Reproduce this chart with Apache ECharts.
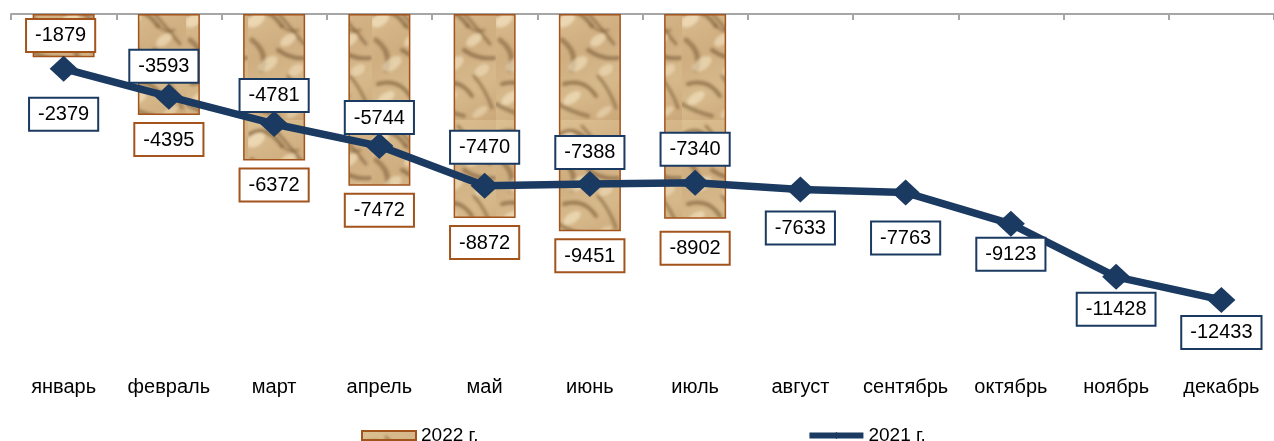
<!DOCTYPE html>
<html>
<head>
<meta charset="utf-8">
<script src="https://cdn.jsdelivr.net/npm/echarts@6/dist/echarts.min.js"></script>
<style>
html,body{margin:0;padding:0;background:#fff;}
#chart{width:1274px;height:441px;}
</style>
</head>
<body>
<div id="chart"></div>
<script>
// ---- data ----
var categories = ['январь','февраль','март','апрель','май','июнь','июль','август','сентябрь','октябрь','ноябрь','декабрь'];
var values2022 = [-1879,-4395,-6372,-7472,-8872,-9451,-8902];
var values2021 = [-2379,-3593,-4781,-5744,-7470,-7388,-7340,-7633,-7763,-9123,-11428,-12433];
var seriesNames = ['2022 г.','2021 г.'];

// ---- label styling (not data) ----
var linePos  = ['bottom','top','top','top','top','top','top','bottom','bottom','bottom','bottom','bottom'];
var lineDist = [17,2,0,0,10,3,5,10,17,2,4,4];
var barDist  = [0,9,9,9,9,9,14];

// sandy texture pattern
function makeTexture(){
  var c = document.createElement('canvas');
  c.width = 62; c.height = 120;
  var g = c.getContext('2d');
  var grd = g.createLinearGradient(0,0,62,120);
  grd.addColorStop(0,'#dcc092');
  grd.addColorStop(0.4,'#cfae80');
  grd.addColorStop(0.7,'#d6b98b');
  grd.addColorStop(1,'#cba879');
  g.fillStyle = grd; g.fillRect(0,0,62,120);
  g.filter = 'blur(1.5px)';
  g.lineCap = 'round';
  var dark = [
    [2,14,18,4,34,26,'rgba(110,78,42,0.55)',4],
    [24,6,38,22,56,44,'rgba(105,74,40,0.5)',3],
    [4,40,20,52,14,70,'rgba(115,82,45,0.5)',5],
    [30,50,44,60,60,58,'rgba(100,70,38,0.5)',4],
    [6,84,26,78,38,96,'rgba(110,78,42,0.55)',4],
    [40,76,52,90,58,108,'rgba(105,75,40,0.5)',3],
    [0,104,14,112,30,116,'rgba(100,72,38,0.45)',4],
    [34,26,44,34,50,30,'rgba(120,88,50,0.45)',3]
  ];
  dark.forEach(function(s){
    g.strokeStyle = s[6]; g.lineWidth = s[7];
    g.beginPath(); g.moveTo(s[0],s[1]); g.quadraticCurveTo(s[2],s[3],s[4],s[5]); g.stroke();
  });
  var light = [
    [8,20,10,6,'rgba(245,228,196,0.7)'],
    [40,40,9,5,'rgba(243,226,192,0.65)'],
    [20,64,11,6,'rgba(244,228,195,0.6)'],
    [48,70,8,5,'rgba(240,222,188,0.6)'],
    [14,98,10,5,'rgba(245,230,198,0.6)'],
    [46,112,9,4,'rgba(240,222,188,0.55)']
  ];
  light.forEach(function(e){
    g.fillStyle = e[4];
    g.beginPath(); g.ellipse(e[0],e[1],e[2],e[3],-0.6,0,Math.PI*2); g.fill();
  });
  g.filter = 'none';
  return c;
}
var texture = makeTexture();

var barColor = '#a3531c';
var lineColor = '#1b3a61';
var font = '"Liberation Sans", Arial, sans-serif';

var barData = values2022.map(function(v,i){
  var item = {value: v, label: {distance: barDist[i]}};
  if (i === 0) { item.label = {position: 'inside', offset: [-3,0]}; }
  return item;
});
var lineData = values2021.map(function(v,i){
  var item = {value: v, label: {position: linePos[i], distance: lineDist[i]}};
  if (i === 1) item.label.offset = [-5,0];
  return item;
});

var chart = echarts.init(document.getElementById('chart'), null, {renderer:'canvas'});
chart.setOption({
  animation: false,
  textStyle: {fontFamily: font},
  grid: {left: 11, top: 14, width: 1271, height: 322, containLabel: false},
  legend: {
    top: 421, left: 356,
    itemWidth: 54, itemHeight: 9, itemGap: 328,
    textStyle: {fontSize: 19, color: '#000', fontFamily: font},
    data: [
      {name: seriesNames[0], icon: 'rect'},
      {name: seriesNames[1], lineStyle: {width: 6}}
    ]
  },
  xAxis: [{
    type: 'category', data: categories, position: 'top',
    axisLine: {show: true, lineStyle: {color: '#a6a6a6', width: 2}},
    axisTick: {show: true, inside: true, length: 6, lineStyle: {color: '#a6a6a6', width: 2}},
    axisLabel: {show: false}
  },{
    type: 'category', data: categories, position: 'bottom',
    axisLine: {show: false}, axisTick: {show: false},
    axisLabel: {show: true, margin: 41, fontSize: 20, color: '#000', fontFamily: font, interval: 0}
  }],
  yAxis: {type: 'value', min: -14000, max: 0, show: false, splitLine: {show: false}},
  series: [{
    name: seriesNames[0], type: 'bar', data: barData, barWidth: 62, z: 2,
    itemStyle: {color: {image: texture, repeat: 'repeat'}, borderColor: barColor, borderWidth: 1.5},
    label: {
      show: true, position: 'bottom', distance: 9,
      backgroundColor: '#fff', borderColor: barColor, borderWidth: 2,
      padding: [6,8,5,8], fontSize: 20, color: '#000', fontFamily: font, lineHeight: 20
    }
  },{
    name: seriesNames[1], type: 'line', data: lineData, z: 5,
    symbol: 'diamond', symbolSize: [28,26], showAllSymbol: true,
    itemStyle: {color: lineColor},
    lineStyle: {color: lineColor, width: 7.5},
    label: {
      show: true,
      backgroundColor: '#fff', borderColor: lineColor, borderWidth: 2,
      padding: [6,8,5,8], fontSize: 20, color: '#000', fontFamily: font, lineHeight: 20
    }
  }]
});
</script>
</body>
</html>
